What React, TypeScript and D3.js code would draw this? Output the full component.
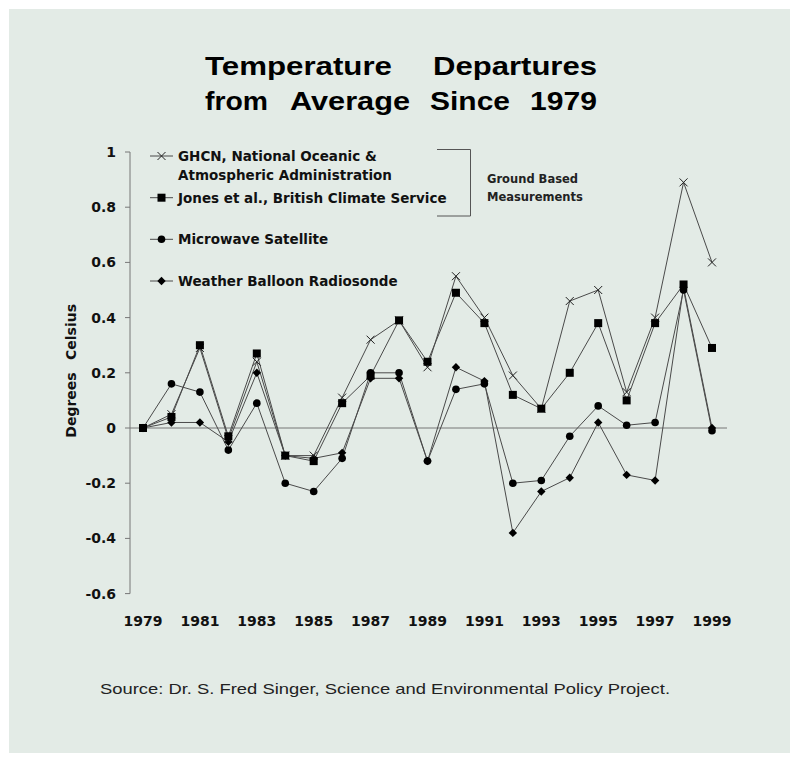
import React from "react";
import * as d3 from "d3";

const years = [1979, 1980, 1981, 1982, 1983, 1984, 1985, 1986, 1987, 1988, 1989, 1990, 1991, 1992, 1993, 1994, 1995, 1996, 1997, 1998, 1999];
const ghcn = [0, 0.05, 0.29, -0.04, 0.24, -0.1, -0.1, 0.11, 0.32, 0.39, 0.22, 0.55, 0.4, 0.19, 0.07, 0.46, 0.5, 0.13, 0.4, 0.89, 0.6];
const jones = [0, 0.04, 0.3, -0.03, 0.27, -0.1, -0.12, 0.09, 0.19, 0.39, 0.24, 0.49, 0.38, 0.12, 0.07, 0.2, 0.38, 0.1, 0.38, 0.52, 0.29];
const satellite = [0, 0.16, 0.13, -0.08, 0.09, -0.2, -0.23, -0.11, 0.2, 0.2, -0.12, 0.14, 0.16, -0.2, -0.19, -0.03, 0.08, 0.01, 0.02, 0.5, -0.01];
const radiosonde = [0, 0.02, 0.02, -0.05, 0.2, -0.1, -0.11, -0.09, 0.18, 0.18, -0.12, 0.22, 0.17, -0.38, -0.23, -0.18, 0.02, -0.17, -0.19, 0.51, 0.0];
const yTicks = [1, 0.8, 0.6, 0.4, 0.2, 0, -0.2, -0.4, -0.6];
const xTickYears = [1979, 1981, 1983, 1985, 1987, 1989, 1991, 1993, 1995, 1997, 1999];
const titleLine1 = ["Temperature", "Departures"];
const titleLine2 = ["from", "Average", "Since", "1979"];
const legendLabels = ["GHCN, National Oceanic &", "Atmospheric Administration", "Jones et al., British Climate Service", "Microwave Satellite", "Weather Balloon Radiosonde"];
const bracketLabels = ["Ground Based", "Measurements"];
const sourceText = "Source:  Dr. S. Fred Singer, Science and Environmental Policy Project.";

const FONT = "'DejaVu Sans', sans-serif";
const TITLE_FONT = "'Liberation Sans', Arial, sans-serif";
const LINE = "#4a4a4a";

type Kind = "x" | "square" | "circle" | "diamond";

function Marker({ kind, cx, cy }: { kind: Kind; cx: number; cy: number }) {
  if (kind === "x") {
    const s = 4;
    return (
      <path d={`M${cx - s},${cy - s}L${cx + s},${cy + s}M${cx - s},${cy + s}L${cx + s},${cy - s}`} stroke="#222" strokeWidth={1} fill="none" />
    );
  }
  if (kind === "square") return <rect x={cx - 4} y={cy - 4} width={8} height={8} fill="#000" />;
  if (kind === "circle") return <circle cx={cx} cy={cy} r={3.8} fill="#000" />;
  return <path d={`M${cx},${cy - 4.2}L${cx + 4.2},${cy}L${cx},${cy + 4.2}L${cx - 4.2},${cy}Z`} fill="#000" />;
}

export default function App() {
  const x = d3.scaleLinear().domain([1979, 1999]).range([143, 712]);
  const y = d3.scaleLinear().domain([-0.6, 1]).range([593.6, 152]);
  const series: { vals: number[]; kind: Kind }[] = [
    { vals: radiosonde, kind: "diamond" },
    { vals: satellite, kind: "circle" },
    { vals: ghcn, kind: "x" },
    { vals: jones, kind: "square" },
  ];
  const line = d3
    .line<number>()
    .x((_, i) => x(years[i]))
    .y((d) => y(d));

  const legendRows: { kind: Kind; cy: number }[] = [
    { kind: "x", cy: 156 },
    { kind: "square", cy: 197.7 },
    { kind: "circle", cy: 239.3 },
    { kind: "diamond", cy: 281 },
  ];
  const legendTextY = [161, 179.5, 202.5, 244, 286];
  const t1x = [205, 433];
  const t1w = [187, 164];
  const t2x = [205, 290, 430, 530];
  const t2w = [63, 120, 80, 67];

  return (
    <svg width={798} height={761} style={{ position: "absolute", left: 0, top: 0 }} fontFamily={FONT}>
      <rect x={0} y={0} width={798} height={761} fill="#fff" />
      <rect x={9} y={9} width={781} height={744} fill="#e3ebe6" />

      {/* Title */}
      {titleLine1.map((w, i) => (
        <text key={w} x={t1x[i]} y={75} fontSize={25} fontWeight="bold" fill="#000" fontFamily={TITLE_FONT} textLength={t1w[i]} lengthAdjust="spacingAndGlyphs">{w}</text>
      ))}
      {titleLine2.map((w, i) => (
        <text key={w} x={t2x[i]} y={110} fontSize={25} fontWeight="bold" fill="#000" fontFamily={TITLE_FONT} textLength={t2w[i]} lengthAdjust="spacingAndGlyphs">{w}</text>
      ))}

      {/* Y axis */}
      <line x1={130} x2={130} y1={y(1)} y2={y(-0.6)} stroke="#777" strokeWidth={1} />
      {yTicks.map((t) => (
        <g key={t}>
          <line x1={125} x2={130} y1={y(t)} y2={y(t)} stroke="#777" strokeWidth={1} />
          <text x={116} y={y(t) + 5} fontSize={14} fontWeight="bold" textAnchor="end" fill="#111">{String(t)}</text>
        </g>
      ))}
      {/* zero line */}
      <line x1={130} x2={727} y1={y(0)} y2={y(0)} stroke="#777" strokeWidth={1} />

      {/* Y label */}
      <text transform={`translate(76,405) rotate(-90)`} fontSize={14} fontWeight="bold" textAnchor="middle" fill="#111">Degrees</text>
      <text transform={`translate(76,332) rotate(-90)`} fontSize={14} fontWeight="bold" textAnchor="middle" fill="#111">Celsius</text>

      {/* X labels */}
      {xTickYears.map((yr) => (
        <text key={yr} x={x(yr)} y={626} fontSize={14} fontWeight="bold" textAnchor="middle" fill="#111">{yr}</text>
      ))}

      {/* Series lines */}
      {series.map((s, i) => (
        <path key={i} d={line(s.vals) || ""} fill="none" stroke={LINE} strokeWidth={1} />
      ))}
      {series.map((s, i) => (
        <g key={"m" + i}>
          {s.vals.map((v, j) => (
            <Marker key={j} kind={s.kind} cx={x(years[j])} cy={y(v)} />
          ))}
        </g>
      ))}

      {/* Legend */}
      {legendRows.map((r, i) => (
        <g key={i}>
          <line x1={150} x2={173} y1={r.cy} y2={r.cy} stroke={LINE} strokeWidth={1} />
          <Marker kind={r.kind} cx={161.5} cy={r.cy} />
        </g>
      ))}
      {legendLabels.map((l, i) => (
        <text key={l} x={178} y={legendTextY[i]} fontSize={13.5} fontWeight="bold" fill="#111">{l}</text>
      ))}
      <path d="M437,149.5L470.5,149.5L470.5,216L437,216" fill="none" stroke="#555" strokeWidth={1} />
      {bracketLabels.map((l, i) => (
        <text key={l} x={487} y={183 + i * 18} fontSize={11.5} fontWeight="bold" fill="#222">{l}</text>
      ))}

      {/* Source */}
      <text x={100} y={694} fontSize={15} fill="#222" fontFamily={TITLE_FONT} textLength={570} lengthAdjust="spacingAndGlyphs">{sourceText}</text>
    </svg>
  );
}
